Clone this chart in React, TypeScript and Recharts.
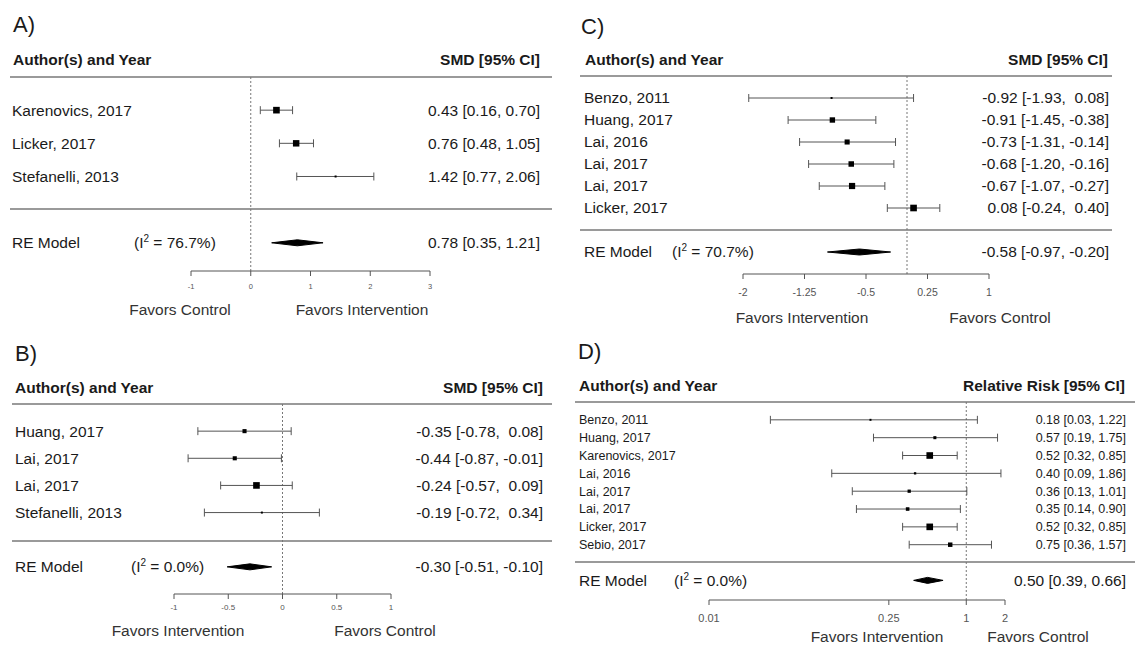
import React from 'react';
import { ComposedChart, Scatter, Area, XAxis, YAxis, ZAxis, ErrorBar, ReferenceLine } from 'recharts';

const FONT = '"Liberation Sans", Arial, Helvetica, sans-serif';
const INK = '#1a1a1a';

// A) SMD, three studies
const studiesA = ['Karenovics, 2017', 'Licker, 2017', 'Stefanelli, 2013'];
const smdA = [0.43, 0.76, 1.42];
const lowA = [0.16, 0.48, 0.77];
const highA = [0.7, 1.05, 2.06];
const weightA = [39.5, 38.5, 23.0];
const pooledA = [0.78, 0.35, 1.21];
const i2A = 76.7;
const ticksA = [-1, 0, 1, 2, 3];
const favorsA = ['Favors Control', 'Favors Intervention'];

// B) SMD, four studies
const studiesB = ['Huang, 2017', 'Lai, 2017', 'Lai, 2017', 'Stefanelli, 2013'];
const smdB = [-0.35, -0.44, -0.24, -0.19];
const lowB = [-0.78, -0.87, -0.57, -0.72];
const highB = [0.08, -0.01, 0.09, 0.34];
const weightB = [22.8, 22.8, 39.3, 15.1];
const pooledB = [-0.3, -0.51, -0.1];
const i2B = 0.0;
const ticksB = [-1, -0.5, 0, 0.5, 1];
const favorsB = ['Favors Intervention', 'Favors Control'];

// C) SMD, six studies
const studiesC = ['Benzo, 2011', 'Huang, 2017', 'Lai, 2016', 'Lai, 2017', 'Lai, 2017', 'Licker, 2017'];
const smdC = [-0.92, -0.91, -0.73, -0.68, -0.67, 0.08];
const lowC = [-1.93, -1.45, -1.31, -1.2, -1.07, -0.24];
const highC = [0.08, -0.38, -0.14, -0.16, -0.27, 0.4];
const weightC = [9.1, 16.8, 15.8, 17.2, 19.7, 21.4];
const pooledC = [-0.58, -0.97, -0.2];
const i2C = 70.7;
const ticksC = [-2, -1.25, -0.5, 0.25, 1];
const favorsC = ['Favors Intervention', 'Favors Control'];

// D) relative risk, eight studies (log axis)
const studiesD = ['Benzo, 2011', 'Huang, 2017', 'Karenovics, 2017', 'Lai, 2016', 'Lai, 2017', 'Lai, 2017', 'Licker, 2017', 'Sebio, 2017'];
const rrD = [0.18, 0.57, 0.52, 0.4, 0.36, 0.35, 0.52, 0.75];
const lowD = [0.03, 0.19, 0.32, 0.09, 0.13, 0.14, 0.32, 0.36];
const highD = [1.22, 1.75, 0.85, 1.86, 1.01, 0.9, 0.85, 1.57];
const weightD = [2.1, 5.8, 30.2, 3.1, 6.9, 8.3, 30.2, 13.3];
const pooledD = [0.5, 0.39, 0.66];
const i2D = 0.0;
const ticksD = [0.01, 0.25, 1, 2];
const favorsD = ['Favors Intervention', 'Favors Control'];

type Panel = {
  tag: string;
  measure: string;
  studies: string[];
  est: number[];
  lo: number[];
  hi: number[];
  w: number[];
  pooled: number[];
  i2: number;
  ticks: number[];
  ref: number;
  log?: boolean;
  favors: string[];
};

type Layout = {
  box: number[];
  plotX: number[];
  plotY: number[];
  yDomain: number[];
  nameX: number;
  i2X: number;
  valueX: number;
  tagPos: number[];
  headY: number;
  headX: number[];
  lines: number[];
  favorsY: number;
  favorsX: number[];
  tickFont: number;
  tickMargin: number;
  rowFont: number;
};

const panels: { p: Panel; g: Layout }[] = [
  {
    p: { tag: 'A)', measure: 'SMD [95% CI]', studies: studiesA, est: smdA, lo: lowA, hi: highA, w: weightA, pooled: pooledA, i2: i2A, ticks: ticksA, ref: 0, favors: favorsA },
    g: { box: [0, 0, 560, 330], plotX: [191, 430], plotY: [77, 271], yDomain: [0, 5.85], nameX: 12, i2X: 134, valueX: 540, tagPos: [13, 25], headY: 60, headX: [13, 540], lines: [10, 552, 77, 209], favorsY: 310, favorsX: [180, 362], tickFont: 7.5, tickMargin: 8, rowFont: 15.5 },
  },
  {
    p: { tag: 'B)', measure: 'SMD [95% CI]', studies: studiesB, est: smdB, lo: lowB, hi: highB, w: weightB, pooled: pooledB, i2: i2B, ticks: ticksB, ref: 0, favors: favorsB },
    g: { box: [0, 330, 560, 318], plotX: [174, 391], plotY: [404, 594], yDomain: [0, 7], nameX: 15, i2X: 131, valueX: 543, tagPos: [15, 354], headY: 388, headX: [15, 543], lines: [12, 552, 404, 541], favorsY: 631, favorsX: [178, 385], tickFont: 8, tickMargin: 5, rowFont: 15.5 },
  },
  {
    p: { tag: 'C)', measure: 'SMD [95% CI]', studies: studiesC, est: smdC, lo: lowC, hi: highC, w: weightC, pooled: pooledC, i2: i2C, ticks: ticksC, ref: 0, favors: favorsC },
    g: { box: [570, 0, 567, 330], plotX: [743, 989], plotY: [76, 274], yDomain: [0, 9], nameX: 584, i2X: 672, valueX: 1109, tagPos: [581, 27], headY: 60, headX: [585, 1108], lines: [580, 1112, 76, 230], favorsY: 318, favorsX: [802, 1000], tickFont: 10.5, tickMargin: 10, rowFont: 15.5 },
  },
  {
    p: { tag: 'D)', measure: 'Relative Risk [95% CI]', studies: studiesD, est: rrD, lo: lowD, hi: highD, w: weightD, pooled: pooledD, i2: i2D, ticks: ticksD, ref: 1, log: true, favors: favorsD },
    g: { box: [570, 330, 567, 318], plotX: [709, 1005], plotY: [402, 600], yDomain: [0, 11.1], nameX: 579, i2X: 674, valueX: 1126, tagPos: [578, 352], headY: 386, headX: [579, 1125], lines: [575, 1135, 402, 562], favorsY: 637, favorsX: [877, 1038], tickFont: 11, tickMargin: 9, rowFont: 12.5 },
  },
];

function Txt({ x, y, anchor = 'start', size = 15.5, bold = false, color = INK, children }: any) {
  const tx = anchor === 'start' ? '0' : anchor === 'end' ? '-100%' : '-50%';
  return (
    <div
      style={{
        position: 'absolute',
        left: x,
        top: y,
        transform: `translate(${tx}, -50%)`,
        fontSize: size,
        fontWeight: bold ? 700 : 400,
        color,
        lineHeight: 1,
        whiteSpace: 'pre',
      }}
    >
      {children}
    </div>
  );
}

function Rule({ x1, x2, y }: { x1: number; x2: number; y: number }) {
  return <div style={{ position: 'absolute', left: x1, top: y - 1, width: x2 - x1, height: 2, background: '#9a9a9a' }} />;
}

function Forest({ p, g }: { p: Panel; g: Layout }) {
  const k = p.studies.length;
  const rows = p.studies.map((_, i) => i + 1);
  const reRow = k + 2;
  const [bx, by, bw, bh] = g.box;
  const pxPerRow = (g.plotY[1] - g.plotY[0]) / (g.yDomain[1] - g.yDomain[0]);
  const half = 3 / pxPerRow;

  const points = rows.map((r, i) => ({
    x: p.est[i],
    y: r,
    w: p.w[i],
    err: [p.est[i] - p.lo[i], p.hi[i] - p.est[i]],
  }));
  const [pe, pl, ph] = p.pooled;
  const diamond = [
    { x: pl, y: [reRow, reRow] },
    { x: pe, y: [reRow - half, reRow + half] },
    { x: ph, y: [reRow, reRow] },
  ];

  // metafor pads positive numbers with a space when a column has negatives
  const pad = [p.est, p.lo, p.hi].map((c) => c.some((v) => v < 0));
  const f = (v: number, j: number) => (pad[j] && v >= 0 ? ' ' : '') + v.toFixed(2);
  const ci = (e: number, l: number, h: number) => `${f(e, 0)} [${f(l, 1)}, ${f(h, 2)}]`;

  const rowTick = (t: any) => {
    const v = t.payload.value;
    const y = t.y;
    const base = { y, dy: '0.35em', fill: INK, fontFamily: FONT, style: { whiteSpace: 'pre' as const } };
    if (v === reRow) {
      return (
        <g>
          <text {...base} x={g.nameX - bx} fontSize={15.5}>RE Model</text>
          <text {...base} x={g.i2X - bx} fontSize={15.5}>
            (I
            <tspan dy={-6} fontSize={10}>2</tspan>
            <tspan dy={6}>{` = ${p.i2.toFixed(1)}%)`}</tspan>
          </text>
          <text {...base} x={g.valueX - bx} fontSize={15.5} textAnchor="end">
            {ci(pe, pl, ph)}
          </text>
        </g>
      );
    }
    const i = v - 1;
    return (
      <g>
        <text {...base} x={g.nameX - bx} fontSize={g.rowFont}>{p.studies[i]}</text>
        <text {...base} x={g.valueX - bx} fontSize={g.rowFont} textAnchor="end">
          {ci(p.est[i], p.lo[i], p.hi[i])}
        </text>
      </g>
    );
  };

  const axisH = 30;
  const margin = {
    top: g.plotY[0] - by,
    bottom: by + bh - g.plotY[1] - axisH,
    left: 0,
    right: bx + bw - g.plotX[1],
  };

  return (
    <>
      <Txt x={g.tagPos[0]} y={g.tagPos[1]} size={22}>{p.tag}</Txt>
      <Txt x={g.headX[0]} y={g.headY} bold>Author(s) and Year</Txt>
      <Txt x={g.headX[1]} y={g.headY} bold anchor="end">{p.measure}</Txt>
      <Rule x1={g.lines[0]} x2={g.lines[1]} y={g.lines[2]} />
      <Rule x1={g.lines[0]} x2={g.lines[1]} y={g.lines[3]} />
      <div style={{ position: 'absolute', left: bx, top: by, width: bw, height: bh }}>
        <ComposedChart width={bw} height={bh} data={diamond} margin={margin}>
          <XAxis
            type="number"
            dataKey="x"
            scale={p.log ? 'log' : 'auto'}
            domain={[p.ticks[0], p.ticks[p.ticks.length - 1]]}
            ticks={p.ticks}
            interval={0}
            allowDataOverflow
            height={axisH}
            tickSize={5}
            tickMargin={g.tickMargin}
            stroke="#555"
            tick={{ fontSize: g.tickFont, fill: '#555', fontFamily: FONT }}
            tickFormatter={(v: number) => String(v)}
          />
          <YAxis
            type="number"
            dataKey="y"
            domain={g.yDomain}
            reversed
            allowDataOverflow
            ticks={[...rows, reRow]}
            interval={0}
            width={g.plotX[0] - bx}
            axisLine={false}
            tickLine={false}
            tick={rowTick}
          />
          <ZAxis type="number" dataKey="w" range={[4, 44]} domain={[Math.min(...p.w), Math.max(...p.w)]} />
          <ReferenceLine x={p.ref} stroke="#777" strokeDasharray="2 2" />
          <Area
            type="linear"
            dataKey="y"
            stroke="#000"
            strokeWidth={1}
            fill="#000"
            fillOpacity={1}
            dot={false}
            activeDot={false}
            isAnimationActive={false}
          />
          <Scatter data={points} shape="square" fill="#000" isAnimationActive={false}>
            <ErrorBar dataKey="err" direction="x" width={4} stroke="#555" strokeWidth={1} />
          </Scatter>
        </ComposedChart>
      </div>
      <Txt x={g.favorsX[0]} y={g.favorsY} anchor="middle" color="#333">{p.favors[0]}</Txt>
      <Txt x={g.favorsX[1]} y={g.favorsY} anchor="middle" color="#333">{p.favors[1]}</Txt>
    </>
  );
}

export default function App() {
  return (
    <div
      style={{
        position: 'absolute',
        left: 0,
        top: 0,
        width: 1137,
        height: 648,
        background: '#fff',
        fontFamily: FONT,
        color: INK,
        overflow: 'hidden',
      }}
    >
      {panels.map(({ p, g }) => (
        <Forest key={p.tag} p={p} g={g} />
      ))}
    </div>
  );
}
